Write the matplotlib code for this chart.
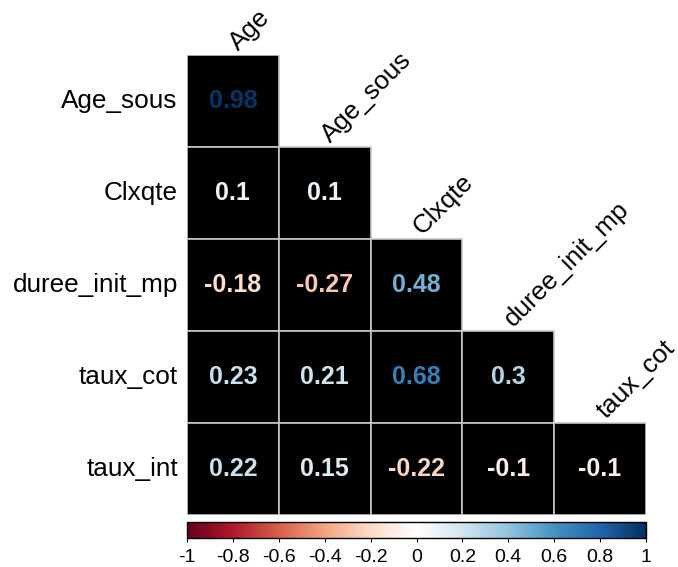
import numpy as np
import matplotlib.pyplot as plt
from matplotlib.colors import LinearSegmentedColormap, Normalize
from matplotlib.patches import Rectangle
from matplotlib.cm import ScalarMappable

plt.rcParams['font.family'] = ['Liberation Sans', 'DejaVu Sans']

# Variables (lignes = variables 2..6, colonnes = variables 1..5)
lignes = ['Age_sous', 'Clxqte', 'duree_init_mp', 'taux_cot', 'taux_int']
colonnes = ['Age', 'Age_sous', 'Clxqte', 'duree_init_mp', 'taux_cot']

# Triangle inferieur de la matrice de correlation
cor_age_sous = [0.98]
cor_clxqte = [0.1, 0.1]
cor_duree = [-0.18, -0.27, 0.48]
cor_taux_cot = [0.23, 0.21, 0.68, 0.3]
cor_taux_int = [0.22, 0.15, -0.22, -0.1, -0.1]
valeurs = [cor_age_sous, cor_clxqte, cor_duree, cor_taux_cot, cor_taux_int]

ticks_barre = [-1, -0.8, -0.6, -0.4, -0.2, 0, 0.2, 0.4, 0.6, 0.8, 1]

# Palette RdBu de corrplot
rdbu = LinearSegmentedColormap.from_list('rdbu', [
    "#67001F", "#B2182B", "#D6604D", "#F4A582", "#FDDBC7", "#FFFFFF",
    "#D1E5F0", "#92C5DE", "#4393C3", "#2166AC", "#053061"])
norm = Normalize(-1, 1)

W, H = 678, 567
fig = plt.figure(figsize=(W / 100, H / 100), dpi=100)

ax = fig.add_axes([187 / W, (H - 515) / H, 459 / W, 460 / H])
ax.set_xlim(0, 5)
ax.set_ylim(5, 0)
ax.axis('off')

for i, ligne in enumerate(valeurs):
    for j, v in enumerate(ligne):
        ax.add_patch(Rectangle((j, i), 1, 1, facecolor='black',
                               edgecolor='#c8c8c8', linewidth=1.2))
        ax.text(j + 0.5, i + 0.5, str(v), ha='center', va='center',
                color=rdbu(norm(v)), fontsize=18, fontweight='bold')

# Noms des lignes
for i, nom in enumerate(lignes):
    ax.text(-0.1, i + 0.5, nom, ha='right', va='center', fontsize=18.8)

# Noms des colonnes en diagonale
for j, nom in enumerate(colonnes):
    ax.text(j + 0.56, j - 0.04, nom, ha='left', va='baseline', fontsize=18.8,
            rotation=45, rotation_mode='anchor')

# Barre de couleur
cax = fig.add_axes([187 / W, (H - 538) / H, 459 / W, 16 / H])
sm = ScalarMappable(norm=norm, cmap=rdbu)
cb = fig.colorbar(sm, cax=cax, orientation='horizontal', ticks=ticks_barre)
cb.ax.set_xticklabels([f'{t:g}' for t in ticks_barre])
cb.ax.tick_params(labelsize=14, length=3, width=0.8, pad=5)
cb.outline.set_linewidth(1)

fig.savefig('out.png', dpi=100)
